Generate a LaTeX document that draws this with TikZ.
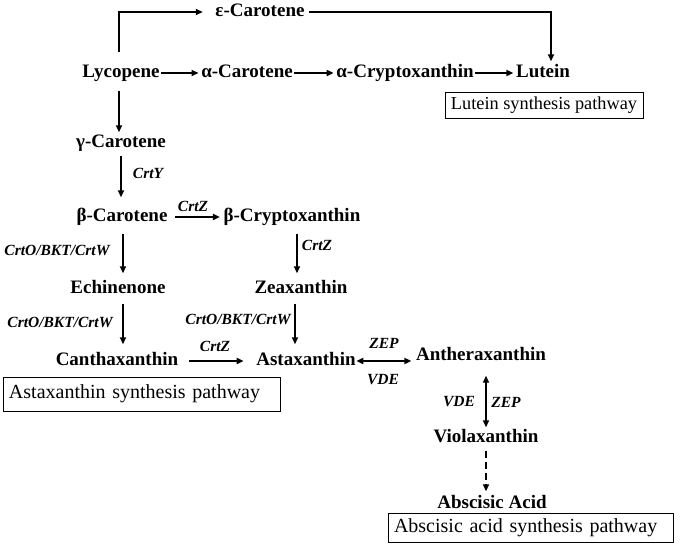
\documentclass[tikz,border=0pt]{standalone}
\usepackage{fontspec}
\setmainfont{Liberation Serif}
\usetikzlibrary{arrows.meta}
\begin{document}
\begin{tikzpicture}[x=1pt,y=-1pt,
  mol/.style={font=\bfseries\fontsize{19}{22}\selectfont, text height=13.5pt, text depth=4.5pt, inner sep=1.5pt},
  enz/.style={font=\bfseries\itshape\fontsize{15.5}{17}\selectfont, inner sep=0pt},
  pbox/.style={draw, line width=0.8pt, font=\fontsize{20}{22}\selectfont, minimum height=26pt, inner sep=3pt},
  arr/.style={line width=1.7pt, -{Triangle[length=7pt,width=6pt]}},
  darr/.style={line width=1.7pt, {Triangle[length=7pt,width=6pt]}-{Triangle[length=7pt,width=6pt]}}]
\useasboundingbox (0,0) rectangle (699,544);
% molecules
\node[mol] (eps) at (260,12) {ε-Carotene};
\node[mol] (lyc) at (121,73) {Lycopene};
\node[mol] (acar) at (247,73) {α-Carotene};
\node[mol] (acry) at (405,73) {α-Cryptoxanthin};
\node[mol] (lut) at (543,73) {Lutein};
\node[mol] (gcar) at (121,143) {γ-Carotene};
\node[mol] (bcar) at (122,217) {β-Carotene};
\node[mol] (bcry) at (292,217) {β-Cryptoxanthin};
\node[mol] (echi) at (118,289) {Echinenone};
\node[mol] (zea) at (301,289) {Zeaxanthin};
\node[mol] (can) at (117,361) {Canthaxanthin};
\node[mol] (asta) at (306,361) {Astaxanthin};
\node[mol] (anth) at (481,356) {Antheraxanthin};
\node[mol] (viol) at (486,438) {Violaxanthin};
\node[mol] (aba) at (492,504) {Abscisic Acid};
% boxes
\node[pbox, minimum width=198pt, font=\fontsize{18.3}{20}\selectfont] (lbox) at (544,105) {Lutein synthesis pathway};
\node[pbox, minimum width=277pt, minimum height=34pt, text width=265pt, align=left] (abox) at (141.5,394) {Astaxanthin synthesis pathway};
\node[pbox, minimum width=285pt, minimum height=29pt, text width=273pt, align=left] (bbox) at (530.5,527.5) {Abscisic acid synthesis pathway};
% helper coordinates
\coordinate (xl) at (119,0);
\coordinate (xr) at (551,0);
\coordinate (xb) at (123,0);
\coordinate (xz) at (297,0);
\coordinate (xa) at (295,0);
\coordinate (xv) at (486,0);
% connectors
\draw[arr] ([yshift=10pt]lyc.north -| xl) |- ([xshift=-11pt]eps.west);
\draw[arr] ([xshift=3pt]eps.east) -| ([yshift=1pt]lut.north -| xr);
\draw[arr, shorten >=1pt] (lyc) -- (acar);
\draw[arr, shorten >=1pt] (acar) -- (acry);
\draw[arr, shorten >=1pt] (acry) -- (lut);
\draw[arr, shorten <=7pt] (lyc.south -| xl) -- (gcar.north -| xl);
\draw[arr, shorten <=2pt, shorten >=9pt] (gcar.south) -- (gcar.south |- bcar.north);
\draw[arr, shorten <=6pt, shorten >=2pt] (bcar) -- (bcry);
\draw[arr, shorten <=6pt, shorten >=5pt] (bcry.south -| xz) -- (zea.north -| xz);
\draw[arr, shorten <=6pt, shorten >=5pt] (bcar.south -| xb) -- (echi.north -| xb);
\draw[arr, shorten <=4pt, shorten >=6pt] (echi.south -| xb) -- (can.north -| xb);
\draw[arr, shorten <=4pt, shorten >=6pt] (zea.south -| xa) -- (asta.north -| xa);
\draw[arr, shorten <=9pt, shorten >=11pt] (can) -- (asta);
\draw[darr, shorten >=3pt, shorten <=-1pt] (asta.east) -- (asta.east -| anth.west);
\draw[darr, shorten <=9pt, shorten >=0pt] (anth.south -| xv) -- (viol.north -| xv);
\draw[arr, dashed, dash pattern=on 7pt off 4pt, shorten <=2pt, shorten >=2pt] (viol.south -| xv) -- (aba.north -| xv);
% enzyme labels
\node[enz] (e1) at (148,173) {CrtY};
\node[enz] (e2) at (193,206) {CrtZ};
\node[enz] (e3) at (317,245) {CrtZ};
\node[enz] (e4) at (57,250) {CrtO/BKT/CrtW};
\node[enz] (e5) at (60,322) {CrtO/BKT/CrtW};
\node[enz] (e6) at (238,319) {CrtO/BKT/CrtW};
\node[enz] (e7) at (215,346) {CrtZ};
\node[enz] (e8) at (384,343) {ZEP};
\node[enz] (e9) at (383,380) {VDE};
\node[enz] (e10) at (459,402) {VDE};
\node[enz] (e11) at (506,402) {ZEP};
\end{tikzpicture}
\end{document}
